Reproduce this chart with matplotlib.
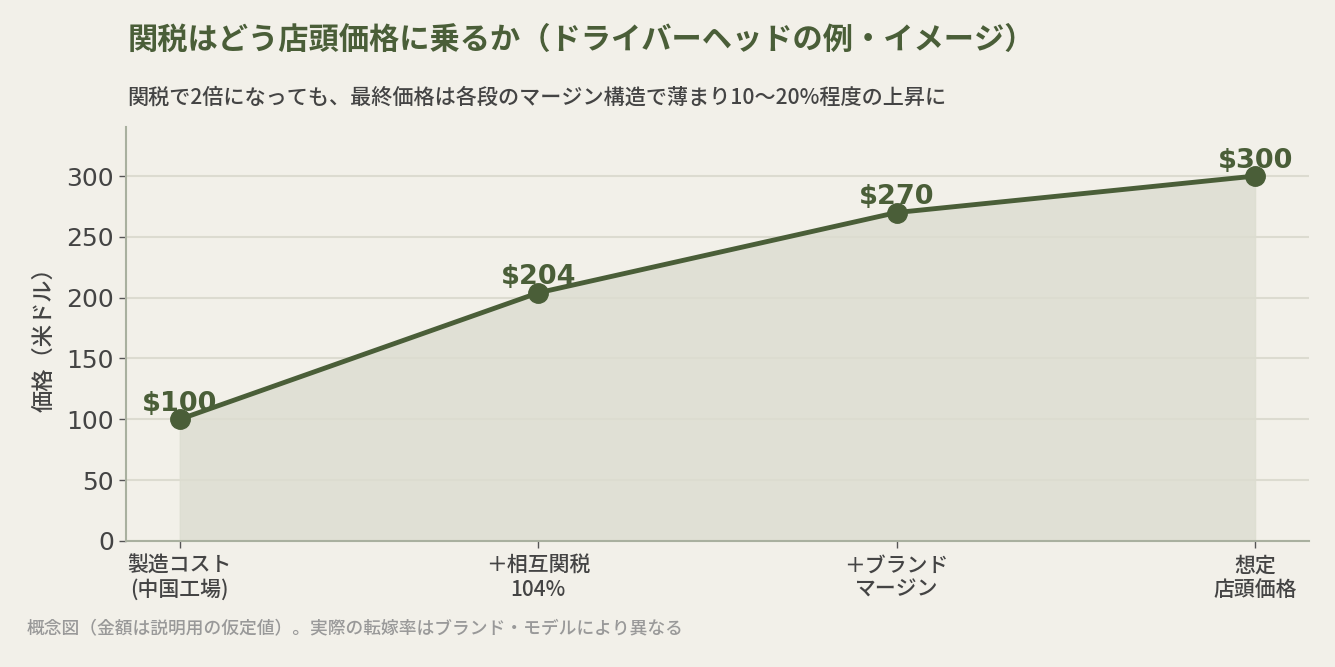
import matplotlib.pyplot as plt

plt.rcParams['font.family'] = ['Noto Sans CJK JP', 'DejaVu Sans']

stages = ['製造コスト\n(中国工場)', '＋相互関税\n104%', '＋ブランド\nマージン', '想定\n店頭価格']
prices = [100, 204, 270, 300]
price_labels = ['$100', '$204', '$270', '$300']
y_ticks = [0, 50, 100, 150, 200, 250, 300]

bg = '#f2f0e9'
olive = '#4a5e38'

fig = plt.figure(figsize=(13.35, 6.67), dpi=100, facecolor=bg)
ax = fig.add_axes([0.0944, 0.189, 0.886, 0.62])
ax.set_facecolor(bg)

x = list(range(len(prices)))
ax.fill_between(x, prices, 0, color='#dcddd0', alpha=0.8, zorder=1)
ax.plot(x, prices, color=olive, lw=3.5, marker='o', ms=14, zorder=3)
for xi, p, lab in zip(x, prices, price_labels):
    ax.text(xi, p + 2, lab, ha='center', va='bottom', fontsize=19.5,
            fontweight='bold', color=olive, family='DejaVu Sans', zorder=4)

ax.set_xlim(-0.15, 3.15)
ax.set_ylim(0, 340)
ax.set_xticks(x)
ax.set_xticklabels(stages, fontsize=15, color='#444444', linespacing=1.1,
                   fontweight='medium')
ax.set_yticks(y_ticks)
ax.set_yticklabels([str(v) for v in y_ticks], fontsize=18, color='#444444',
                   family='DejaVu Sans')
ax.tick_params(axis='both', color='#555555', length=5, width=1)
ax.tick_params(axis='x', pad=5)
ax.set_ylabel('価格（米ドル）', fontsize=16, color='#444444', labelpad=8,
              fontweight='medium')

ax.grid(axis='y', color='#dcdbd0', lw=1.5, zorder=0)
ax.set_axisbelow(True)
for s in ['top', 'right']:
    ax.spines[s].set_visible(False)
for s in ['left', 'bottom']:
    ax.spines[s].set_color('#a9b09f')
    ax.spines[s].set_linewidth(1.5)

fig.text(0.0955, 0.94, '関税はどう店頭価格に乗るか（ドライバーヘッドの例・イメージ）',
         fontsize=21.8, fontweight='bold', color=olive, va='center')
fig.text(0.0955, 0.853, '関税で2倍になっても、最終価格は各段のマージン構造で薄まり10〜20%程度の上昇に',
         fontsize=15.2, color='#444444', va='center', fontweight='medium')
fig.text(0.02, 0.056, '概念図（金額は説明用の仮定値）。実際の転嫁率はブランド・モデルにより異なる',
         fontsize=12.8, color='#999999', va='center', fontweight='medium')

fig.savefig('out.png', dpi=100, facecolor=bg)
